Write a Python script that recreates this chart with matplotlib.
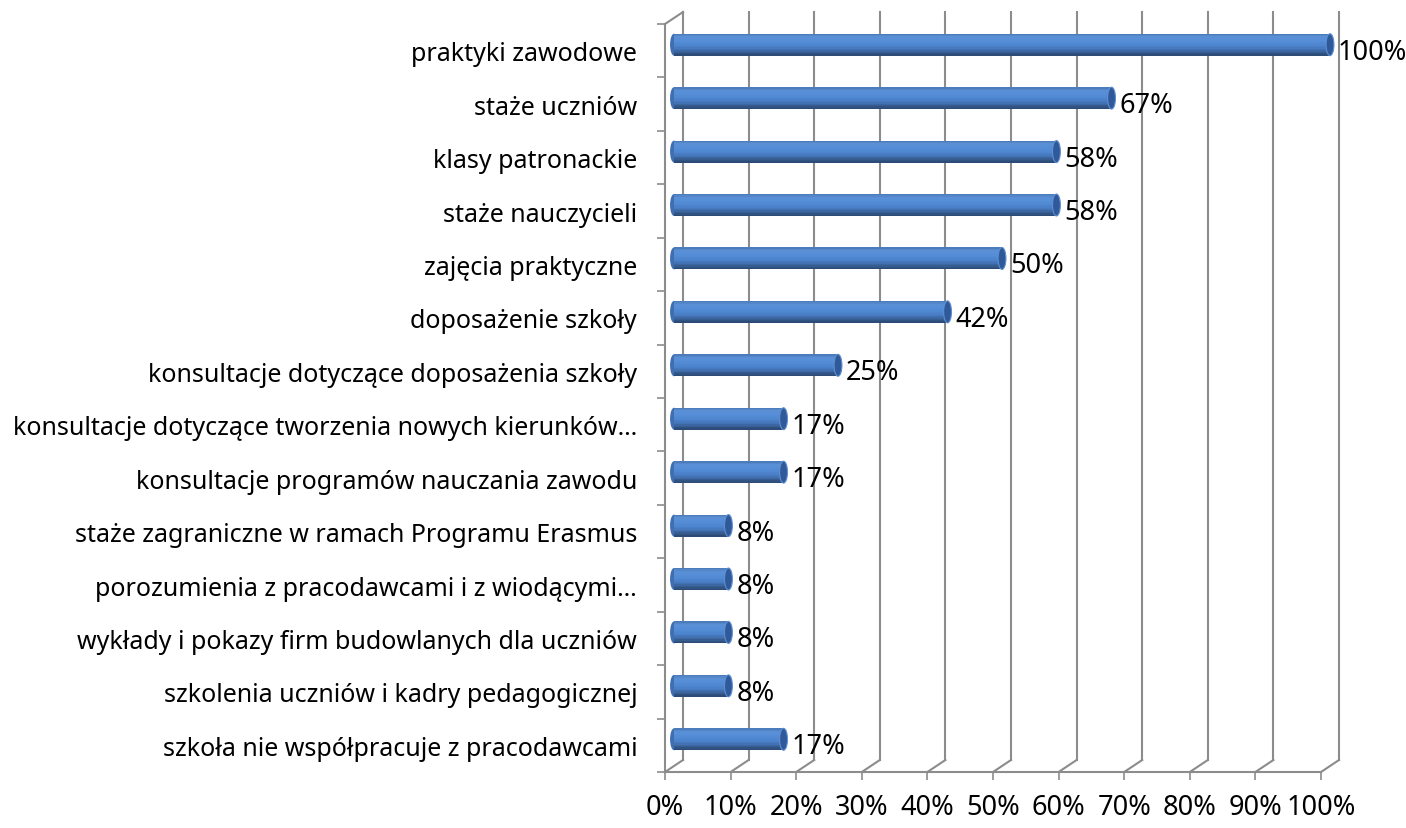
import numpy as np
import matplotlib
matplotlib.use("Agg")
import matplotlib.pyplot as plt
import matplotlib.transforms as mtransforms
from matplotlib.patches import Ellipse
from matplotlib.colors import LinearSegmentedColormap

categories = [
    "praktyki zawodowe",
    "staże uczniów",
    "klasy patronackie",
    "staże nauczycieli",
    "zajęcia praktyczne",
    "doposażenie szkoły",
    "konsultacje dotyczące doposażenia szkoły",
    "konsultacje dotyczące tworzenia nowych kierunków…",
    "konsultacje programów nauczania zawodu",
    "staże zagraniczne w ramach Programu Erasmus",
    "porozumienia z pracodawcami i z wiodącymi…",
    "wykłady i pokazy firm budowlanych dla uczniów",
    "szkolenia uczniów i kadry pedagogicznej",
    "szkoła nie współpracuje z pracodawcami",
]
values = [100, 66.7, 58.3, 58.3, 50, 41.7, 25, 16.7, 16.7, 8.3, 8.3, 8.3, 8.3, 16.7]
xticks = list(range(0, 101, 10))

plt.rcParams['font.family'] = ['Noto Sans', 'DejaVu Sans']
FS = 18
FS_NUM = 19.5
grid_c = '#8c8c8c'

W, H = 1406, 829
fig = plt.figure(figsize=(W / 100, H / 100), dpi=100)
x0, x1, y0, y1 = 665, 1321, 25, 773
ax = fig.add_axes([x0 / W, 1 - y1 / H, (x1 - x0) / W, (y1 - y0) / H])
n = len(categories)
ax.set_xlim(0, 100)
ax.set_ylim(n - 0.5, -0.5)
for s in ax.spines.values():
    s.set_visible(False)

# depth offsets (pixels): back wall and bar plane
full = ax.transData + mtransforms.ScaledTranslation(18 / 100, 12 / 100, fig.dpi_scale_trans)
half = ax.transData + mtransforms.ScaledTranslation(9 / 100, 6 / 100, fig.dpi_scale_trans)

ytop, ybot = -0.5, n - 0.5
for xv in xticks:
    ax.plot([xv, xv], [ybot, ytop], color=grid_c, lw=1.5, transform=full, zorder=1, clip_on=False)
    # floor diagonal
    p0 = ax.transData.transform((xv, ybot))
    p1 = full.transform((xv, ybot))
    ax.plot([p0[0], p1[0]], [p0[1], p1[1]], color=grid_c, lw=1.5, transform=None, zorder=1, clip_on=False)
# top-left diagonal
p0 = ax.transData.transform((0, ytop))
p1 = full.transform((0, ytop))
ax.plot([p0[0], p1[0]], [p0[1], p1[1]], color=grid_c, lw=1.5, transform=None, zorder=1, clip_on=False)
# front left wall and floor edge
ax.plot([0, 0], [ybot, ytop], color=grid_c, lw=1.5, zorder=1, clip_on=False)
ax.plot([0, 100], [ybot, ybot], color=grid_c, lw=1.5, zorder=1, clip_on=False)

# cylinder bars (bottom -> top colours)
cmap = LinearSegmentedColormap.from_list(
    'cyl', ['#2a4770', '#35598c', '#4373b5', '#4c82cc', '#5189d3', '#568fd8', '#5a8fd4', '#4a78b8'])
bh = 0.41
ns = 16
edges = np.linspace(-bh / 2, bh / 2, ns + 1)
cap_w = 1.2
for i, v in enumerate(values):
    ax.add_patch(Ellipse((0, i), cap_w, bh, transform=half, facecolor='#3f6fb0',
                         edgecolor='none', zorder=2, clip_on=False))
    for k in range(ns):
        yc = i + (edges[k] + edges[k + 1]) / 2
        frac = 1 - (k + 0.5) / ns
        ax.barh(yc, v, height=edges[1] - edges[0] + 0.002, left=0, color=cmap(frac),
                transform=half, zorder=3, linewidth=0, clip_on=False)
    ax.add_patch(Ellipse((v, i), cap_w, bh, transform=half, facecolor='#30599a',
                         edgecolor='#5d8fd3', lw=0.8, zorder=4, clip_on=False))
    ax.annotate(f"{v:.0f}%", xy=(v, i), xytext=(17, -1), textcoords='offset pixels',
                ha='left', va='center', fontsize=FS_NUM, color='black', zorder=5)

ax.set_yticks(range(n))
ax.set_yticklabels(categories, fontsize=FS)
ax.set_yticks(np.arange(-0.5, n, 1), minor=True)
ax.tick_params(axis='y', which='major', length=0, pad=20)
ax.tick_params(axis='y', which='minor', length=6, width=1.2, color=grid_c, direction='out')
ax.set_xticks(xticks)
ax.set_xticklabels([f"{x}%" for x in xticks], fontsize=FS_NUM)
ax.tick_params(axis='x', length=6, width=1.2, color=grid_c, direction='out', pad=9)

fig.savefig("out.png", dpi=100)
